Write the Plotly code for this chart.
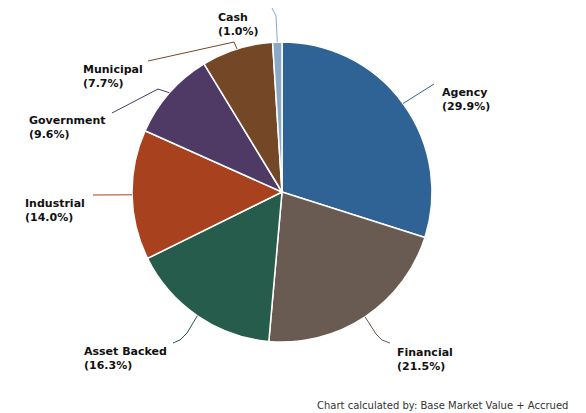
import math
import plotly.graph_objects as go

categories = ["Agency", "Financial", "Asset Backed", "Industrial", "Government", "Municipal", "Cash"]
values = [29.9, 21.5, 16.3, 14.0, 9.6, 7.7, 1.0]
colors = ["#2F6396", "#6A5B52", "#255C4B", "#A8421E", "#4F3A66", "#744827", "#8BA8C8"]
footer = "Chart calculated by: Base Market Value + Accrued"

W, H = 586, 413
CX, CY, R = 282, 192, 150

# label anchor (left x, center y) and leader path mid/end points (pixels)
label_pos = {
    "Agency": (440, 99),
    "Financial": (395, 359),
    "Asset Backed": (82, 358),
    "Industrial": (23, 210),
    "Government": (27, 127),
    "Municipal": (81, 76),
    "Cash": (216, 24),
}
leader_pts = {
    "Agency": [(434, 84)],
    "Financial": [(376, 334), (382, 340), (390, 343)],
    "Asset Backed": [(187, 333), (180, 340), (173, 343)],
    "Industrial": [(93, 195)],
    "Government": [(158, 89), (112, 113)],
    "Municipal": [(234, 42), (148, 61)],
    "Cash": [(276, 16), (272, 8)],
}

fig = go.Figure()
fig.add_trace(go.Pie(
    labels=categories, values=values, sort=False, direction="clockwise", rotation=0,
    marker=dict(colors=colors, line=dict(color="white", width=1.5)),
    textinfo="none", hoverinfo="label+percent", showlegend=False,
    domain=dict(x=[(CX - R) / W, (CX + R) / W], y=[(H - CY - R) / H, (H - CY + R) / H]),
))

shapes = []
annotations = []
total = sum(values)
cum = 0
for cat, v, col in zip(categories, values, colors):
    mid = (cum + v / 2) / total * 2 * math.pi
    cum += v
    sx = CX + R * math.sin(mid)
    sy = CY - R * math.cos(mid)
    pts = [(sx, sy)] + leader_pts[cat]
    path = "M " + " L ".join(f"{x:.1f},{y:.1f}" for x, y in pts)
    shapes.append(dict(type="path", path=path, xref="x", yref="y",
                       line=dict(color=col, width=1)))
    lx, ly = label_pos[cat]
    annotations.append(dict(
        x=lx, y=ly, xref="x", yref="y", xanchor="left", yanchor="middle",
        text=f"<b>{cat}</b><br><b>({v:.1f}%)</b>", showarrow=False, align="left",
        font=dict(family="DejaVu Sans", size=11, color="#111111"),
    ))

annotations.append(dict(
    x=570, y=405, xref="x", yref="y", xanchor="right", yanchor="middle",
    text=footer, showarrow=False,
    font=dict(family="DejaVu Sans", size=10, color="#333333"),
))

fig.update_layout(
    width=W, height=H, margin=dict(l=0, r=0, t=0, b=0),
    paper_bgcolor="white", plot_bgcolor="rgba(0,0,0,0)",
    xaxis=dict(range=[0, W], visible=False, fixedrange=True, domain=[0, 1]),
    yaxis=dict(range=[H, 0], visible=False, fixedrange=True, domain=[0, 1]),
    shapes=shapes, annotations=annotations,
)
fig.write_html("out.html", config={"displayModeBar": False},
               post_script="document.body.style.margin='0';document.body.style.overflow='hidden';")
